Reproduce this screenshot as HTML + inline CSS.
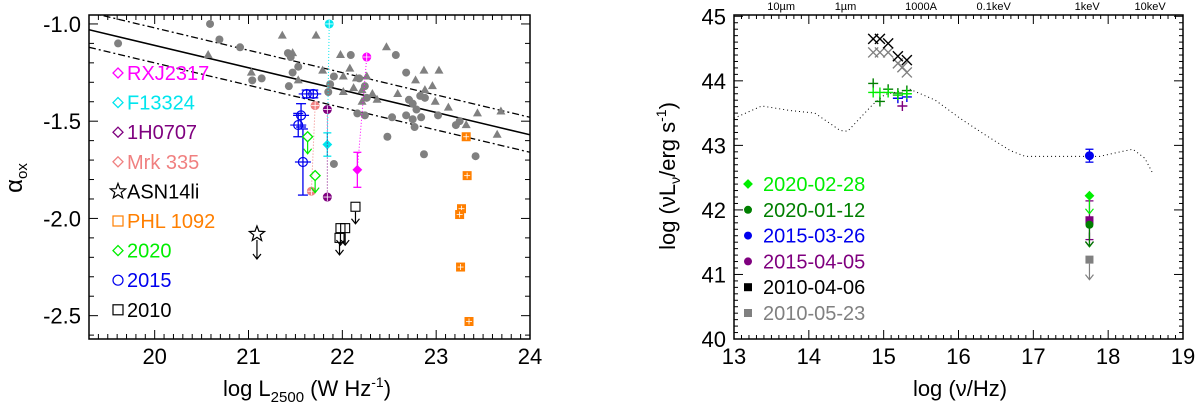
<!DOCTYPE html>
<html><head><meta charset="utf-8">
<style>
html,body{margin:0;padding:0;background:#fff;}
svg{display:block;font-family:"Liberation Sans",Arial,sans-serif;}
</style></head>
<body>
<svg id="fig" width="1200" height="414" viewBox="0 0 1200 414" xmlns="http://www.w3.org/2000/svg">
<defs><clipPath id="lclip"><rect x="89" y="15" width="441" height="324"/></clipPath></defs>
</svg>
<script>
// ---------- LEFT PANEL DATA ----------
const grayCircX=[19.61,20.59,20.69,20.91,21.42,21.45,21.53,21.47,21.04,21.14,21.43,21.85,21.87,21.91,22.09,22.18,22.24,22.26,22.16,22.24,22.57,22.68,22.71,22.75,22.79,22.83,22.88,22.68,22.75,22.77,22.84,23.02,23.21,23.25,22.48,22.87,23.42,21.91,22.53];
const grayCircY=[-1.10,-1.00,-1.08,-1.12,-1.15,-1.17,-1.22,-1.25,-1.29,-1.28,-1.32,-1.35,-1.31,-1.27,-1.16,-1.28,-1.32,-1.38,-1.46,-1.47,-1.16,-1.25,-1.39,-1.41,-1.44,-1.37,-1.38,-1.47,-1.49,-1.53,-1.48,-1.47,-1.52,-1.50,-1.58,-1.67,-1.68,-1.72,-1.48];
const grayTriX=[21.36,21.72,20.57,21.03,21.53,21.79,21.98,22.01,22.08,22.15,22.12,22.21,22.26,22.32,22.37,22.47,22.87,23.03,22.78,22.88,22.96,22.59,23.13,22.99,23.44,23.69,23.32,23.65,22.21,22.01,21.47];
const grayTriY=[-1.06,-1.06,-1.16,-1.25,-1.29,-1.24,-1.16,-1.27,-1.23,-1.28,-1.33,-1.34,-1.27,-1.36,-1.39,-1.12,-1.24,-1.24,-1.29,-1.34,-1.32,-1.36,-1.43,-1.40,-1.46,-1.45,-1.52,-1.57,-1.40,-1.35,-1.15];
const fitX=[19.30,24.00];
const fitY=[-1.03,-1.57];
const fitScatter=0.09;
const pairNames=['RXJ2317','F13324','1H0707','Mrk 335'];
const pairColors=['#ff00ff','#00e5ee','#7f007f','#f08080'];
const pairX1=[22.26,21.86,21.84,21.71];
const pairY1=[-1.17,-1.00,-1.44,-1.42];
const pairX2=[22.16,21.84,21.84,21.67];
const pairY2=[-1.75,-1.62,-1.89,-1.86];
const pairErr=[0.09,0.06,0.01,0.01];
const blueX=[21.62,21.69,21.56,21.53,21.58];
const blueY=[-1.36,-1.36,-1.47,-1.52,-1.71];
const blueErrY=[0.02,0.02,0.06,0.06,0.17];
const greenX=[21.63,21.71];
const greenY=[-1.58,-1.78];
const blackSqX=[21.98,22.03,21.97,22.14];
const blackSqY=[-2.05,-2.05,-2.10,-1.94];
const starX=[21.09];
const starY=[-2.08];
const orangeX=[23.32,23.33,23.27,23.25,23.26,23.35];
const orangeY=[-1.58,-1.78,-1.95,-1.98,-2.25,-2.53];
const leftXTicks=[20,21,22,23,24];
const leftYTicks=[-1.0,-1.5,-2.0,-2.5];
const leftYTickLabels=['-1.0','-1.5','-2.0','-2.5'];
const leftLegend=['RXJ2317','F13324','1H0707','Mrk 335','ASN14li','PHL 1092','2020','2015','2010'];
const leftLegendColors=['#ff00ff','#00e5ee','#7f007f','#f08080','#000','#ff7f00','#00ee00','#0000ee','#000'];
const leftLegendSym=['diamond','diamond','diamond','diamond','star','square','diamond','circle','square'];

// ---------- RIGHT PANEL DATA ----------
const sedX=[13.0,13.37,13.75,14.08,14.42,14.52,14.86,15.02,15.35,15.69,16.02,16.36,16.69,16.89,17.89,18.16,18.33,18.49,18.59];
const sedY=[43.42,43.61,43.54,43.50,43.23,43.22,43.64,43.79,43.87,43.70,43.42,43.16,42.92,42.83,42.83,42.90,42.94,42.80,42.58];
const blackXx=[14.86,14.95,15.06,15.19,15.31];
const blackXy=[44.65,44.65,44.58,44.38,44.32];
const grayXx=[14.86,14.95,15.06,15.19,15.25,15.31];
const grayXy=[44.44,44.44,44.44,44.27,44.21,44.13];
const ltGreenX=[14.86,14.95,15.06,15.19,15.31];
const ltGreenY=[43.82,43.82,43.82,43.78,43.80];
const dkGreenX=[14.86,14.95,15.06,15.19,15.31];
const dkGreenY=[43.96,43.68,43.87,43.81,43.85];
const blueUVX=[15.19,15.31];
const blueUVY=[43.73,43.75];
const purpleUVX=[15.19,15.25];
const purpleUVY=[43.78,43.61];
const xrayX=17.75;
const xrayBlue=[42.84,0.1];
const xrayLtGreen=42.22;
const xrayPurple=[41.84,0.3];
const xrayDkGreen=41.77;
const xrayBlack=41.65;
const xrayGray=41.23;
const rightXTicks=[13,14,15,16,17,18,19];
const rightYTicks=[40,41,42,43,44,45];
const topLabels=['10\u00b5m','1\u00b5m','1000A','0.1keV','1keV','10keV'];
const topLabelX=[13.63,14.49,15.50,16.47,17.72,18.56];
const rightLegend=['2020-02-28','2020-01-12','2015-03-26','2015-04-05','2010-04-06','2010-05-23'];
const rightLegendColors=['#00ee00','#007f00','#0000ee','#7f007f','#000','#808080'];
const rightLegendSym=['diamond','circle','circle','circle','square','square'];

const NS='http://www.w3.org/2000/svg';
const fig=document.getElementById('fig');
function mk(tag,attrs,parent){const e=document.createElementNS(NS,tag);for(const k in attrs)e.setAttribute(k,attrs[k]);(parent||fig).appendChild(e);return e;}
function grp(name,parent){const g=mk('g',{},parent);return g;}

const L={x0:89,x1:530,y0:15,y1:339,xmin:19.3,xmax:24.0,ymin:-2.62,ymax:-0.954};
const lx=v=>L.x0+(v-L.xmin)/(L.xmax-L.xmin)*(L.x1-L.x0);
const ly=v=>L.y0+(L.ymax-v)/(L.ymax-L.ymin)*(L.y1-L.y0);
const R={x0:734,x1:1183,y0:15,y1:339,xmin:13,xmax:19,ymin:40,ymax:45.02};
const rx=v=>R.x0+(v-R.xmin)/(R.xmax-R.xmin)*(R.x1-R.x0);
const ry=v=>R.y0+(R.ymax-v)/(R.ymax-R.ymin)*(R.y1-R.y0);

function frame(P,name){
  const g=grp(name);
  mk('rect',{x:P.x0,y:P.y0,width:P.x1-P.x0,height:P.y1-P.y0,fill:'none',stroke:'#000','stroke-width':1.5},g);
  return g;
}
function ticks(P,fx,fy,g,xmaj,xminStep,ymaj,yminStep,len,mlen){
  for(let v=Math.ceil(P.xmin/xminStep)*xminStep;v<=P.xmax+1e-9;v+=xminStep){
    const isMaj=xmaj.some(t=>Math.abs(t-v)<1e-6);const L2=isMaj?len:mlen;const X=fx(v);
    mk('line',{x1:X,x2:X,y1:P.y1,y2:P.y1-L2,stroke:'#000','stroke-width':1},g);
    mk('line',{x1:X,x2:X,y1:P.y0,y2:P.y0+L2,stroke:'#000','stroke-width':1},g);
  }
  for(let v=Math.ceil(P.ymin/yminStep)*yminStep;v<=P.ymax+1e-9;v+=yminStep){
    const isMaj=ymaj.some(t=>Math.abs(t-v)<1e-6);const L2=isMaj?len:mlen;const Y=fy(v);
    mk('line',{x1:P.x0,x2:P.x0+L2,y1:Y,y2:Y,stroke:'#000','stroke-width':1},g);
    mk('line',{x1:P.x1,x2:P.x1-L2,y1:Y,y2:Y,stroke:'#000','stroke-width':1},g);
  }
}
function diamond(x,y,s,col,fill,g){return mk('polygon',{points:`${x},${y-s} ${x+s},${y} ${x},${y+s} ${x-s},${y}`,fill:fill?col:'none',stroke:col,'stroke-width':1.3},g);}
function star(x,y,r,col,g){let p='';for(let i=0;i<10;i++){const a=-Math.PI/2+i*Math.PI/5;const rr=i%2?r*0.42:r;p+=`${x+rr*Math.cos(a)},${y+rr*Math.sin(a)} `;}return mk('polygon',{points:p,fill:'none',stroke:col,'stroke-width':1.2},g);}
function arrowDown(x,y,len,col,g){mk('line',{x1:x,x2:x,y1:y,y2:y+len,stroke:col,'stroke-width':1.2},g);mk('polyline',{points:`${x-4},${y+len-5} ${x},${y+len} ${x+4},${y+len-5}`,fill:'none',stroke:col,'stroke-width':1.2},g);}
function hexm(x,y,col,g){mk('circle',{cx:x,cy:y,r:4.5,fill:col},g);mk('line',{x1:x-4,x2:x+4,y1:y,y2:y,stroke:'#fff','stroke-width':0.8},g);mk('line',{x1:x,x2:x,y1:y-4,y2:y+4,stroke:'#fff','stroke-width':0.8},g);}
function errbar(x,y1,y2,col,g,cap){mk('line',{x1:x,x2:x,y1:y1,y2:y2,stroke:col,'stroke-width':1.3},g);mk('line',{x1:x-cap,x2:x+cap,y1:y1,y2:y1,stroke:col,'stroke-width':1.3},g);mk('line',{x1:x-cap,x2:x+cap,y1:y2,y2:y2,stroke:col,'stroke-width':1.3},g);}
function txt(s,x,y,size,col,anchor,g,name){const t=mk('text',{x:x,y:y,'font-size':size,fill:col,'text-anchor':anchor||'start'},g);t.textContent=s;if(name){}return t;}

// ===== LEFT PANEL =====
const lf=frame(L,'left-plot-frame');
ticks(L,lx,ly,lf,leftXTicks,0.1,leftYTicks,0.1,9,5);
const lxt=grp('left-x-tick-labels');
leftXTicks.forEach(v=>txt(String(v),lx(v),364,22,'#000','middle',lxt));
const lyt=grp('left-y-tick-labels');
leftYTicks.forEach((v,i)=>txt(leftYTickLabels[i],81,ly(v)+8,22,'#000','end',lyt));
const xt=mk('text',{x:307,y:396,'font-size':22,'text-anchor':'middle',fill:'#000'});


xt.innerHTML='log L<tspan font-size="15" dy="6">2500</tspan><tspan dy="-6"> (W Hz</tspan><tspan font-size="14" dy="-9">-1</tspan><tspan dy="9">)</tspan>';
const yt=mk('text',{x:0,y:0,'font-size':24,'text-anchor':'middle',fill:'#000',transform:'translate(22,178) rotate(-90)'});


yt.innerHTML='\u03b1<tspan font-size="15" dy="5">ox</tspan>';

const fits=grp('correlation-fit-lines');
fits.setAttribute('clip-path','url(#lclip)');
mk('line',{x1:lx(fitX[0]),y1:ly(fitY[0]),x2:lx(fitX[1]),y2:ly(fitY[1]),stroke:'#000','stroke-width':1.5},fits);
[fitScatter,-fitScatter].forEach(d=>{
  mk('line',{x1:lx(fitX[0]),y1:ly(fitY[0]+d),x2:lx(fitX[1]),y2:ly(fitY[1]+d),stroke:'#000','stroke-width':1.3,'stroke-dasharray':'7,3,2,3'},fits);
});

const gc=grp('sample-circles');
grayCircX.forEach((v,i)=>mk('circle',{cx:lx(v),cy:ly(grayCircY[i]),r:4,fill:'#808080'},gc));
const gt=grp('sample-triangles');
grayTriX.forEach((v,i)=>{const x=lx(v),y=ly(grayTriY[i]);mk('polygon',{points:`${x},${y-5} ${x+4.5},${y+3} ${x-4.5},${y+3}`,fill:'#808080'},gt);});

pairNames.forEach((n,i)=>{
  const g=grp('source-'+n.toLowerCase().replace(/\s/g,''));
  const c=pairColors[i];
  mk('line',{x1:lx(pairX1[i]),y1:ly(pairY1[i]),x2:lx(pairX2[i]),y2:ly(pairY2[i]),stroke:c,'stroke-width':1,'stroke-dasharray':'1,2'},g);
  hexm(lx(pairX1[i]),ly(pairY1[i]),c,g);
  if(pairErr[i]>0.02)errbar(lx(pairX2[i]),ly(pairY2[i]+pairErr[i]),ly(pairY2[i]-pairErr[i]),c,g,4);
  if(i<2)diamond(lx(pairX2[i]),ly(pairY2[i]),4,c,true,g);else hexm(lx(pairX2[i]),ly(pairY2[i]),c,g);
});
const bg=grp('epoch-2015-points');
blueX.forEach((v,i)=>{const x=lx(v),y=ly(blueY[i]);
  errbar(x,ly(blueY[i]+blueErrY[i]),ly(blueY[i]-blueErrY[i]),'#0000ee',bg,5);
  mk('line',{x1:x-8,x2:x+8,y1:y,y2:y,stroke:'#0000ee','stroke-width':1.2},bg);
  mk('circle',{cx:x,cy:y,r:4.5,fill:'none',stroke:'#0000ee','stroke-width':1.2},bg);});
const gg=grp('epoch-2020-points');
greenX.forEach((v,i)=>{const x=lx(v),y=ly(greenY[i]);arrowDown(x,y+5,12,'#00ee00',gg);diamond(x,y,5,'#00ee00',false,gg);});
const kg=grp('epoch-2010-points');
blackSqX.forEach((v,i)=>{const x=lx(v),y=ly(blackSqY[i]);arrowDown(x,y+5,12,'#000',kg);mk('rect',{x:x-4.5,y:y-4.5,width:9,height:9,fill:'none',stroke:'#000','stroke-width':1.1},kg);});
const sg=grp('asn14li-point');
starX.forEach((v,i)=>{const x=lx(v),y=ly(starY[i]);star(x,y,8,'#000',sg);arrowDown(x,y+6,19,'#000',sg);});
const og=grp('phl1092-points');
orangeX.forEach((v,i)=>{const x=lx(v),y=ly(orangeY[i]);mk('rect',{x:x-4.5,y:y-4.5,width:9,height:9,fill:'#ff7f00'},og);
  mk('line',{x1:x-3,x2:x+3,y1:y,y2:y,stroke:'#fff','stroke-width':0.8},og);mk('line',{x1:x,x2:x,y1:y-3,y2:y+3,stroke:'#fff','stroke-width':0.8},og);});

const llg=grp('left-legend');
leftLegend.forEach((s,i)=>{
  const y=73+i*29.6, x=118, c=leftLegendColors[i];
  const e=grp('legend-entry',llg);
  const sym=leftLegendSym[i];
  if(sym==='diamond')diamond(x,y,5,c,false,e);
  else if(sym==='star')star(x,y,8,c,e);
  else if(sym==='square')mk('rect',{x:x-5,y:y-5,width:10,height:10,fill:'none',stroke:c,'stroke-width':1.2},e);
  else mk('circle',{cx:x,cy:y,r:5,fill:'none',stroke:c,'stroke-width':1.2},e);
  txt(s,127,y+7,20,c,'start',e);
});

// ===== RIGHT PANEL =====
const rf=frame(R,'right-plot-frame');
ticks(R,rx,ry,rf,rightXTicks,0.1,rightYTicks,0.1,9,4);
const rxt=grp('right-x-tick-labels');
rightXTicks.forEach(v=>txt(String(v),rx(v),364,22,'#000','middle',rxt));
const ryt=grp('right-y-tick-labels');
rightYTicks.forEach(v=>txt(String(v),726,ry(v)+8,22,'#000','end',ryt));
const ttl=grp('top-axis-labels');
topLabels.forEach((s,i)=>txt(s,rx(topLabelX[i]),10,11,'#000','middle',ttl));
txt('log (\u03bd/Hz)',960,396,22,'#000','middle',null,'right-x-axis-title');
const ryt2=mk('text',{x:0,y:0,'font-size':22,'text-anchor':'middle',fill:'#000',transform:'translate(675,176) rotate(-90)'});


ryt2.innerHTML='log (\u03bdL<tspan font-size="14" dy="5">\u03bd</tspan><tspan dy="-5">/erg s</tspan><tspan font-size="14" dy="-9">-1</tspan><tspan dy="9">)</tspan>';

const sedg=grp('agn-sed-template');
mk('polyline',{points:sedX.map((v,i)=>`${rx(v)},${ry(sedY[i])}`).join(' '),fill:'none',stroke:'#000','stroke-width':1,'stroke-dasharray':'1,3'},sedg);

function xmark(x,y,c,g){mk('path',{d:`M${x-5},${y-5}L${x+5},${y+5}M${x-5},${y+5}L${x+5},${y-5}`,stroke:c,'stroke-width':1.4},g);}
function plus(x,y,c,g){mk('path',{d:`M${x-5},${y}L${x+5},${y}M${x},${y-5}L${x},${y+5}`,stroke:c,'stroke-width':1.4},g);}
const uvg=grp('uv-optical-photometry');
grayXx.forEach((v,i)=>xmark(rx(v),ry(grayXy[i]),'#808080',uvg));
blackXx.forEach((v,i)=>xmark(rx(v),ry(blackXy[i]),'#000',uvg));
purpleUVX.forEach((v,i)=>plus(rx(v),ry(purpleUVY[i]),'#7f007f',uvg));
blueUVX.forEach((v,i)=>plus(rx(v),ry(blueUVY[i]),'#0000ee',uvg));
dkGreenX.forEach((v,i)=>plus(rx(v),ry(dkGreenY[i]),'#007f00',uvg));
ltGreenX.forEach((v,i)=>plus(rx(v),ry(ltGreenY[i]),'#00ee00',uvg));

const xg=grp('xray-points');
const X=rx(xrayX);
errbar(X,ry(xrayPurple[0]+xrayPurple[1]),ry(xrayPurple[0]-xrayPurple[1]),'#7f007f',xg,4);
mk('rect',{x:X-4,y:ry(xrayPurple[0])-4,width:8,height:8,fill:'#7f007f'},xg);
arrowDown(X,ry(xrayBlack),14,'#000',xg);
arrowDown(X,ry(xrayDkGreen),22,'#007f00',xg);
mk('circle',{cx:X,cy:ry(xrayDkGreen),r:4,fill:'#007f00'},xg);
arrowDown(X,ry(xrayLtGreen),18,'#00ee00',xg);
diamond(X,ry(xrayLtGreen),4,'#00ee00',true,xg);
mk('rect',{x:X-4,y:ry(xrayGray)-4,width:8,height:8,fill:'#808080'},xg);
arrowDown(X,ry(xrayGray)+4,16,'#808080',xg);
errbar(X,ry(xrayBlue[0]+xrayBlue[1]),ry(xrayBlue[0]-xrayBlue[1]),'#0000ee',xg,4);
mk('circle',{cx:X,cy:ry(xrayBlue[0]),r:4.5,fill:'#0000ee'},xg);

const rlg=grp('right-legend');
rightLegend.forEach((s,i)=>{
  const y=184+i*25.8, x=748, c=rightLegendColors[i];
  const e=grp('legend-entry',rlg);
  const sym=rightLegendSym[i];
  if(sym==='diamond')diamond(x,y,4,c,true,e);
  else if(sym==='circle')mk('circle',{cx:x,cy:y,r:4,fill:c},e);
  else mk('rect',{x:x-4,y:y-4,width:8,height:8,fill:c},e);
  txt(s,763,y+7,20,c,'start',e);
});
</script>
</body></html>
